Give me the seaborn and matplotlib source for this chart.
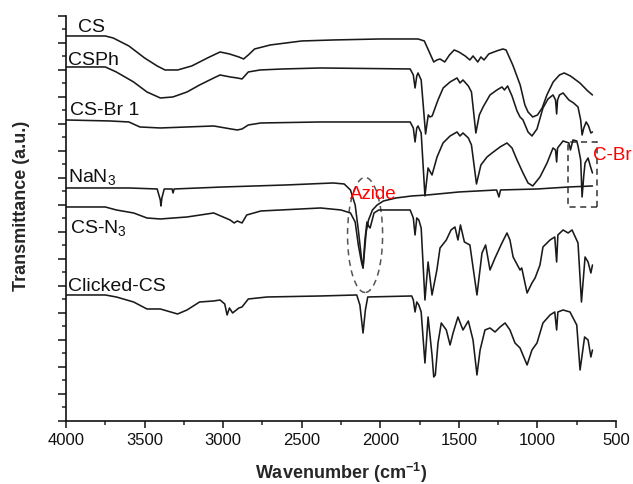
import numpy as np
import pandas as pd
import seaborn as sns
import matplotlib
matplotlib.use("Agg")
import matplotlib.pyplot as plt
from matplotlib.patches import Ellipse, Rectangle
from matplotlib.ticker import MultipleLocator

# FTIR spectra (wavenumber in cm-1, transmittance in a.u., stacked)
cs_wn = [4000, 3750, 3700, 3600, 3500, 3420, 3370, 3290, 3200, 3100, 3020, 2960, 2900, 2870,
         2840, 2800, 2700, 2500, 2300, 2000, 1760, 1720, 1700, 1660, 1640, 1620, 1590, 1560,
         1530, 1500, 1460, 1430, 1410, 1380, 1360, 1340, 1310, 1260, 1220, 1200, 1160, 1150,
         1110, 1080, 1060, 1030, 1000, 970, 940, 900, 860, 830, 790, 730, 680, 650]
cs_t = [385, 385, 383, 375, 363, 355, 351, 351, 355, 363, 369, 367, 364, 362,
        366, 372, 376, 380, 381, 382, 382, 380, 373, 359, 361, 362, 359, 366,
        371, 369, 365, 361, 365, 359, 364, 361, 367, 370, 372, 371, 357, 353,
        336, 316, 309, 304, 306, 313, 326, 339, 346, 348, 345, 338, 330, 326]

csph_wn = [4000, 3750, 3680, 3570, 3485, 3400, 3320, 3230, 3150, 3060, 3020, 2955, 2910, 2880,
           2840, 2765, 2620, 2380, 1810, 1790, 1779, 1768, 1760, 1740, 1712, 1695, 1684, 1670,
           1633, 1600, 1556, 1512, 1493, 1474, 1440, 1420, 1392, 1370, 1346, 1302, 1258, 1226,
           1210, 1190, 1162, 1130, 1111, 1092, 1060, 1035, 1003, 965, 933, 901, 885, 878,
           872, 860, 837, 800, 770, 742, 725, 716, 705, 690, 675, 660, 650]
csph_t = [354, 354, 349, 339, 329, 323, 324, 329, 336, 343, 346, 344, 343, 342,
          349, 351, 352, 353, 352, 346, 333, 345, 348, 341, 287, 306, 304, 305,
          321, 333, 339, 343, 338, 341, 335, 329, 288, 306, 314, 326, 331, 334,
          331, 335, 325, 310, 304, 301, 289, 285, 292, 313, 322, 326, 321, 307,
          321, 326, 328, 321, 318, 314, 301, 286, 293, 299, 295, 288, 289]

csbr_wn = [4000, 3720, 3600, 3530, 3400, 3230, 3060, 2950, 2910, 2880, 2840, 2760, 2380, 1810,
           1790, 1779, 1768, 1760, 1740, 1716, 1696, 1671, 1639, 1601, 1556, 1512, 1493, 1474,
           1440, 1420, 1388, 1360, 1321, 1289, 1238, 1194, 1162, 1130, 1092, 1060, 1030, 984,
           939, 901, 885, 878, 872, 837, 800, 790, 774, 750, 742, 725, 716, 705, 697, 678,
           660, 650]
csbr_t = [301, 300, 299, 294, 293, 294, 295, 292, 291, 292, 296, 298, 299, 299,
          293, 279, 293, 295, 288, 225, 253, 246, 264, 278, 285, 289, 285, 288,
          283, 276, 237, 256, 264, 268, 274, 278, 273, 261, 248, 238, 235, 244,
          258, 273, 271, 259, 273, 280, 278, 271, 281, 280, 275, 261, 224, 246, 258, 263,
          253, 248]

nan3_wn = [4000, 3600, 3420, 3400, 3396, 3390, 3375, 3325, 3319, 3312, 3000, 2600, 2300, 2230,
           2190, 2160, 2140, 2120, 2110, 2100, 2090, 2075, 2050, 2020, 1980, 1900, 1800, 1700,
           1500, 1260, 1245, 1235, 1000, 800, 650]
nan3_t = [233, 233, 232, 221, 215, 223, 232, 232, 228, 232, 234, 236, 238, 237,
          231, 216, 191, 163, 153, 171, 189, 201, 211, 216, 220, 223, 225, 226,
          229, 231, 224, 231, 232, 234, 235]

csn3_wn = [4000, 3750, 3680, 3570, 3485, 3400, 3230, 3060, 2956, 2930, 2910, 2880, 2850, 2760,
           2380, 2250, 2190, 2160, 2140, 2120, 2110, 2098, 2085, 2075, 2065, 2040, 2010, 1810,
           1790, 1779, 1768, 1755, 1740, 1716, 1696, 1671, 1640, 1620, 1580, 1550, 1525, 1506,
           1490, 1465, 1430, 1385, 1353, 1330, 1302, 1270, 1226, 1194, 1175, 1155, 1111, 1100,
           1066, 1035, 1015, 984, 965, 920, 890, 878, 870, 837, 805, 780, 742, 720, 697, 678,
           660, 650]
csn3_t = [214, 214, 211, 208, 203, 202, 204, 208, 201, 198, 200, 198, 206, 210,
          213, 211, 208, 199, 176, 159, 153, 181, 199, 195, 193, 208, 211, 211,
          203, 186, 203, 201, 193, 121, 159, 126, 151, 173, 181, 191, 194, 181,
          196, 179, 176, 126, 168, 176, 151, 163, 178, 188, 181, 164, 151, 153,
          128, 138, 143, 156, 174, 181, 184, 159, 186, 191, 188, 191, 178, 119, 164, 159,
          148, 156]

click_wn = [4000, 3750, 3680, 3570, 3485, 3400, 3290, 3230, 3150, 3060, 3020, 2990, 2975, 2960,
            2940, 2900, 2880, 2840, 2720, 2380, 2150, 2130, 2110, 2095, 2080, 1800, 1790, 1779,
            1768, 1755, 1740, 1716, 1696, 1671, 1660, 1650, 1633, 1612, 1580, 1556, 1537, 1506,
            1474, 1440, 1410, 1385, 1365, 1334, 1302, 1270, 1238, 1206, 1175, 1143, 1111, 1066,
            1035, 1003, 965, 920, 890, 878, 870, 837, 793, 750, 729, 700, 678, 660, 650]
click_t = [126, 126, 124, 119, 112, 112, 107, 111, 119, 120, 121, 117, 106, 113,
           108, 113, 114, 122, 124, 125, 126, 116, 88, 111, 124, 125, 121, 109,
           119, 116, 109, 58, 104, 66, 44, 46, 78, 98, 91, 76, 88, 104,
           91, 100, 81, 46, 71, 91, 93, 89, 94, 98, 91, 78, 73, 56,
           71, 78, 98, 106, 109, 91, 109, 111, 109, 96, 51, 84, 81, 64, 71]

spectra = [("CS", cs_wn, cs_t), ("CSPh", csph_wn, csph_t), ("CS-Br 1", csbr_wn, csbr_t),
           ("NaN3", nan3_wn, nan3_t), ("CS-N3", csn3_wn, csn3_t), ("Clicked-CS", click_wn, click_t)]

# labels next to each trace (text, wavenumber, a.u. baseline)
label_text = ["CS", "CSPh", "CS-Br 1", "NaN$_3$", "CS-N$_3$", "Clicked-CS"]
label_wn = [3924, 3987, 3975, 3987, 3975, 3987]
label_t = [389, 356, 306, 239, 188, 130]

sns.set_style("ticks")
plt.rcParams["font.family"] = ["Liberation Sans", "DejaVu Sans"]
plt.rcParams["mathtext.fontset"] = "custom"
plt.rcParams["mathtext.rm"] = "Liberation Sans"
plt.rcParams["mathtext.it"] = "Liberation Sans:italic"
plt.rcParams["mathtext.bf"] = "Liberation Sans:bold"

fig = plt.figure(figsize=(6.33, 4.84), dpi=100)
ax = fig.add_axes([0.1043, 0.1302, 0.8689, 0.8368])

for name, wn, t in spectra:
    df = pd.DataFrame({"wavenumber": wn, "T": t})
    sns.lineplot(data=df, x="wavenumber", y="T", ax=ax, color="#1a1a1a",
                 linewidth=1.15, estimator=None)

for txt, x, y in zip(label_text, label_wn, label_t):
    ax.text(x, y, txt, fontsize=14, ha="left", va="baseline", color="#111111")

# annotations
ax.text(2193, 222, "Azide", fontsize=13.5, color="red", ha="left", va="baseline")
ax.text(646, 261, "C-Br", fontsize=13.5, color="red", ha="left", va="baseline", clip_on=False)
ax.add_patch(Ellipse((2097, 186), 223, 115, fill=False, linestyle=(0, (4, 3)),
                     edgecolor="#555555", linewidth=1.1))
ax.add_patch(Rectangle((621, 214), 184, 65, fill=False, linestyle=(0, (4, 3)),
                       edgecolor="#333333", linewidth=1.1, clip_on=False))

ax.set_xlim(4000, 500)
ax.set_ylim(0, 405)
ax.xaxis.set_major_locator(MultipleLocator(500))
ax.xaxis.set_minor_locator(MultipleLocator(250))
ax.yaxis.set_major_locator(MultipleLocator(27))
ax.yaxis.set_minor_locator(MultipleLocator(13.5))
ax.set_yticklabels([])
ax.tick_params(axis="both", which="major", direction="out", length=5, width=1.1,
               labelsize=12, colors="#111111")
ax.tick_params(axis="both", which="minor", direction="out", length=3, width=1.1)
ax.tick_params(axis="y", which="major", length=6)
for s in ["left", "bottom"]:
    ax.spines[s].set_linewidth(1.2)
    ax.spines[s].set_color("#111111")
sns.despine(ax=ax)

ax.set_xlabel(r"Wavenumber (cm$^{\mathbf{-1}}$)", fontsize=13, fontweight="bold", labelpad=9.5)
ax.set_ylabel("Transmittance (a.u.)", fontsize=13, fontweight="bold")
ax.yaxis.set_label_coords(-0.065, 0.53)

fig.savefig("out.png", dpi=100)
